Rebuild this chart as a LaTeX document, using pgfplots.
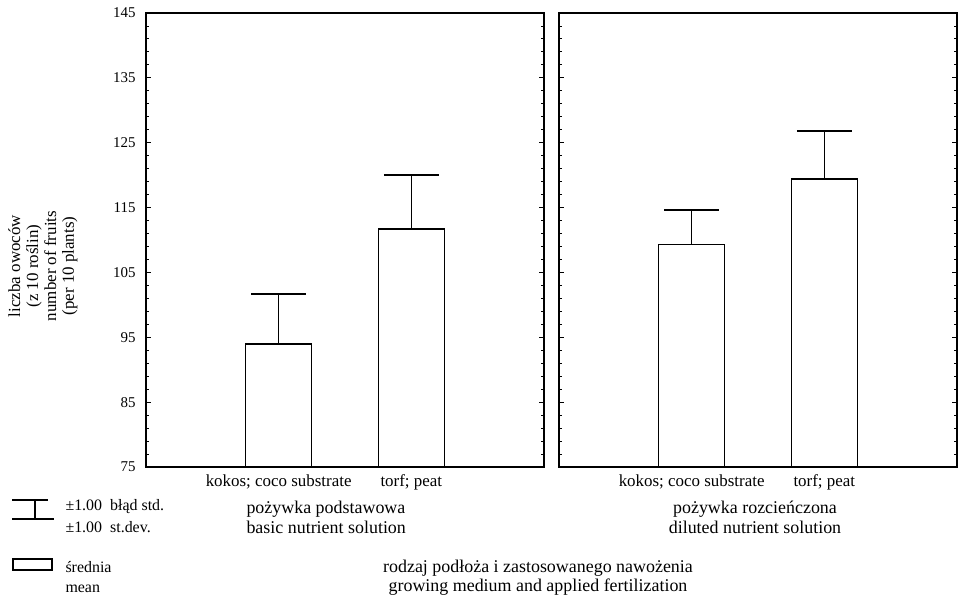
\documentclass[border=0pt]{standalone}
\usepackage{fontspec}
\setmainfont{Liberation Serif}
\usepackage{pgfplots}
\pgfplotsset{compat=1.18}

\begin{document}
\begin{tikzpicture}[x=1bp,y=1bp]
\path (0bp,0bp) rectangle (963bp,605bp);
\pgfplotsset{
  panel/.style={
    scale only axis, width=398bp, height=454bp,
    anchor=south west,
    xmin=0, xmax=3, ymin=75, ymax=145,
    ytick={75,85,...,145}, minor y tick num=4,
    xtick={1,2}, xticklabels={kokos; coco substrate, torf; peat},
    tick align=inside, ytick pos=both, xtick pos=bottom,
    major tick length=5bp, minor tick length=3bp,
    axis line style={line width=1.5pt},
    tick style={line width=0.9pt, black},
    /pgf/number format/assume math mode=true,
    yticklabel style={font=\fontsize{15}{15}\selectfont, xshift=-7bp},
    xticklabel style={font=\fontsize{17}{17}\selectfont, yshift=-4bp},
  },
  barplot/.style={
    ybar, bar width=66bp, fill=white, draw=black, line width=1.6pt,
    error bars/.cd, y dir=plus, y explicit,
    error bar style={line width=1.3pt, black},
    error mark options={rotate=90, line width=1.5pt, mark size=27.5bp, black},
  }
}
\begin{axis}[panel, at={(146bp,138bp)}]
\addplot[barplot] coordinates {(1,94.0) +- (0,7.7) (2,111.7) +- (0,8.3)};
\end{axis}
\begin{axis}[panel, at={(559bp,138bp)}, yticklabels={}]
\addplot[barplot] coordinates {(1,109.3) +- (0,5.3) (2,119.4) +- (0,7.4)};
\end{axis}

\node[rotate=90, align=center, font=\fontsize{17}{18}\selectfont] at (43bp,339bp)
  {liczba owoców\\(z 10 roślin)\\number of fruits\\(per 10 plants)};

\node[anchor=west, align=left, font=\fontsize{18}{20}\selectfont] at (243bp,88bp)
  {pożywka podstawowa\\basic nutrient solution};
\node[align=center, font=\fontsize{18}{20}\selectfont] at (755bp,88bp)
  {pożywka rozcieńczona\\diluted nutrient solution};
\node[align=center, font=\fontsize{18}{19}\selectfont] at (538bp,27bp)
  {rodzaj podłoża i zastosowanego nawożenia\\growing medium and applied fertilization};

% legend
\draw[line width=1.2pt] (12bp,105bp) -- (48bp,105bp) (35bp,105bp) -- (35bp,86bp) (12bp,86bp) -- (54bp,86bp);
\draw[line width=1.4pt] (13bp,35bp) rectangle (52bp,46bp);
\node[anchor=west, font=\fontsize{16}{16}\selectfont] at (62bp,98bp) {±1.00\ \ błąd std.};
\node[anchor=west, font=\fontsize{16}{16}\selectfont] at (62bp,78bp) {±1.00\ \ st.dev.};
\node[anchor=west, font=\fontsize{16}{16}\selectfont] at (62bp,38bp) {średnia};
\node[anchor=west, font=\fontsize{16}{16}\selectfont] at (62bp,16bp) {mean};
\end{tikzpicture}
\end{document}
